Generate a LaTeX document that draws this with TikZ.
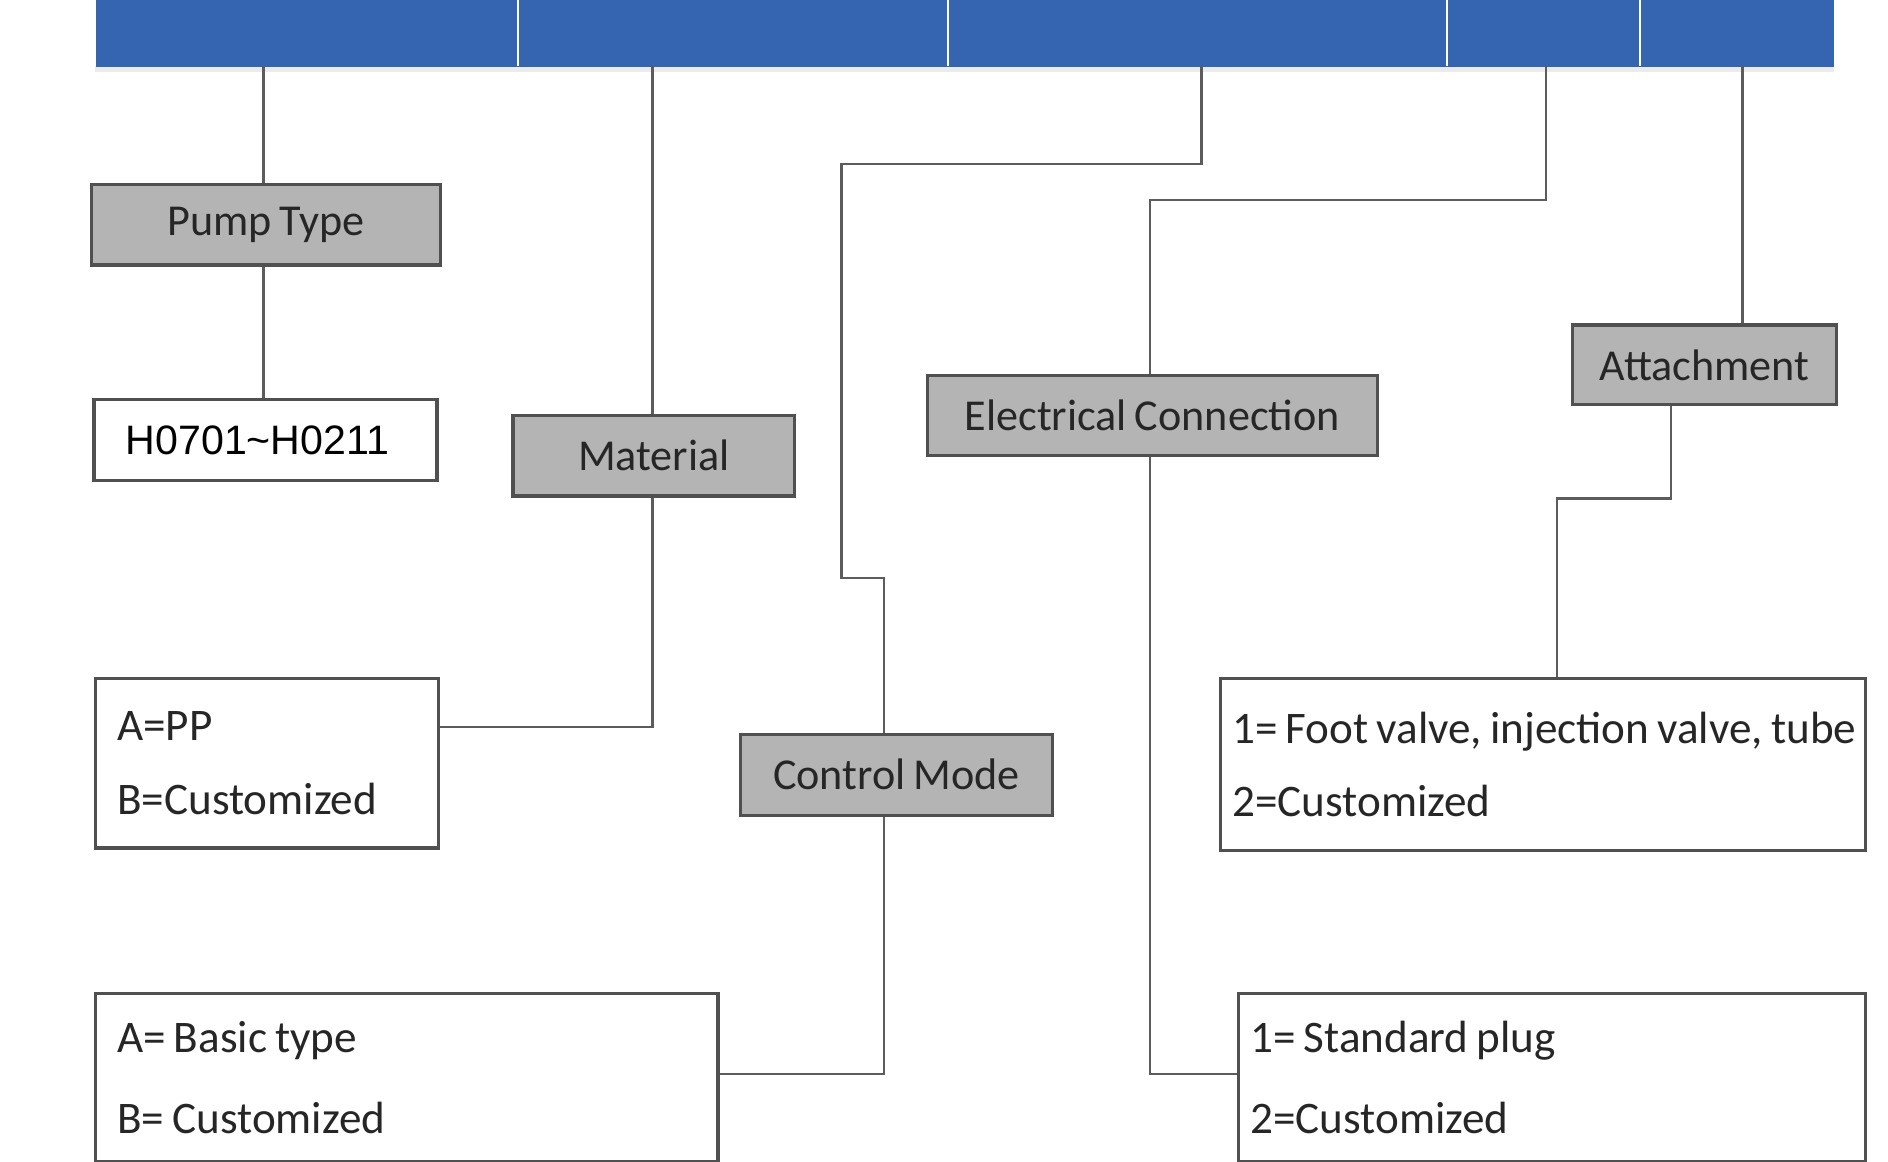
\documentclass[tikz,border=0pt]{standalone}
\usepackage{fontspec}
\setmainfont{Carlito}[WordSpace=0.8]
\newfontfamily\arialfont{Liberation Sans}
\definecolor{barblue}{HTML}{3565B0}
\definecolor{boxgray}{HTML}{B4B4B4}
\definecolor{edgegray}{HTML}{505050}
\definecolor{linegray}{HTML}{5C5C5C}
\definecolor{txt}{HTML}{262626}
\newcommand{\natsp}{\spaceskip=0pt\xspaceskip=0pt\relax}
\begin{document}
\begin{tikzpicture}[x=0.6pt,y=-0.6pt,
  label box/.style={draw=edgegray,line width=1.6pt,fill=boxgray,text=txt,
    font=\fontsize{22}{26}\selectfont,inner sep=0pt},
  value box/.style={draw=edgegray,line width=1.6pt,fill=white,text=txt,
    anchor=north west,align=left,inner ysep=0pt},
  conn/.style={draw=linegray,line width=1.2pt}]
\useasboundingbox (0,0) rectangle (1568,965);
% header bar
\fill[black!8] (79,55) rectangle (1523,60);
\node[fill=barblue,draw=none,inner sep=0pt,minimum width=866.4pt,minimum height=33pt,anchor=north west] (bar) at (79,0) {};
\foreach \x in {430,787,1202,1362} \draw[white,line width=1pt] (\x,0) -- (\x,55);
\coordinate (b1) at (219,55);
\coordinate (b2) at (542,55);
\coordinate (b3) at (998,55);
\coordinate (b4) at (1284,55);
\coordinate (b5) at (1447,55);
% label boxes
\node[label box,minimum width=174pt,minimum height=40.2pt] (pump) at (221,186.5) {Pump Type};
\node[label box,minimum width=140.4pt,minimum height=40.2pt] (material) at (543,378.5) {Material};
\node[label box,minimum width=155.4pt,minimum height=40.2pt] (ctrl) at (744.5,643.5) {Control Mode};
\node[label box,minimum width=224.4pt,minimum height=39.6pt] (elec) at (957,345) {Electrical Connection};
\node[label box,minimum width=131.4pt,minimum height=39.6pt] (att) at (1415.5,303) {Attachment};
% value boxes
\node[draw=edgegray,line width=1.6pt,fill=white,text=black,inner sep=0pt,
  minimum width=171pt,minimum height=40.2pt,font=\arialfont\fontsize{20.5}{24}\selectfont] (hval) at (220.5,365.5) {\hspace*{-8pt}H0701\char`~H0211};
\node[value box,inner xsep=10.8pt,text width=149.4pt,minimum height=84.6pt,
  font=\fontsize{22.5}{37.2}\selectfont] (mval) at (78,562) {\natsp A=PP\\B=Customized};
\node[value box,inner xsep=10.8pt,text width=288.6pt,minimum height=83.4pt,
  font=\fontsize{22.5}{40.2}\selectfont] (cval) at (78,824) {\natsp A= Basic type\\B= Customized};
\node[value box,inner xsep=6pt,text width=300.6pt,minimum height=83.4pt,
  font=\fontsize{22.5}{40.2}\selectfont] (eval) at (1027,824) {\natsp 1= Standard plug\\2=Customized};
\node[value box,inner xsep=6pt,text width=309.6pt,minimum height=85.8pt,
  font=\fontsize{22.5}{36}\selectfont] (aval) at (1012,562) {\natsp\mbox{1= Foot valve, injection valve, tube}\\2=Customized};
% connectors
\draw[conn] (b1) -- (b1 |- pump.north);
\draw[conn] (b1 |- pump.south) -- (b1 |- hval.north);
\draw[conn] (b2) -- (b2 |- material.north);
\coordinate (m1) at (542,604);
\draw[conn] (b2 |- material.south) -- (m1) -- (m1 -| mval.east);
\coordinate (c1) at (998,136);
\coordinate (c2) at (699,136);
\coordinate (c3) at (699,480);
\coordinate (c4) at (734,480);
\coordinate (c5) at (734,892);
\draw[conn] (b3) -- (c1) -- (c2) -- (c3) -- (c4) -- (c4 |- ctrl.north);
\draw[conn] (c4 |- ctrl.south) -- (c5) -- (c5 -| cval.east);
\coordinate (e1) at (1284,166);
\coordinate (e2) at (955,166);
\coordinate (e3) at (955,892);
\draw[conn] (b4) -- (e1) -- (e2) -- (e2 |- elec.north);
\draw[conn] (e2 |- elec.south) -- (e3) -- (e3 -| eval.west);
\coordinate (a1) at (1388,414);
\coordinate (a2) at (1293,414);
\draw[conn] (b5) -- (b5 |- att.north);
\draw[conn] (a1 |- att.south) -- (a1) -- (a2) -- (a2 |- aval.north);
\end{tikzpicture}
\end{document}
